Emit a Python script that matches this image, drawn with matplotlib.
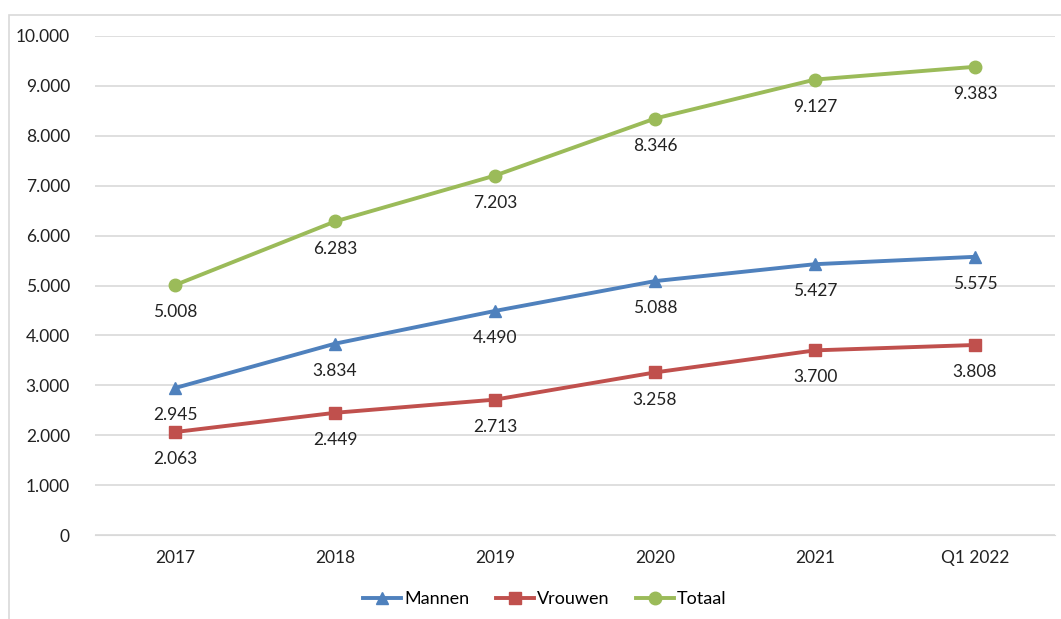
import matplotlib.pyplot as plt
from matplotlib.patches import Rectangle
from matplotlib.ticker import FuncFormatter

categories = ['2017', '2018', '2019', '2020', '2021', 'Q1 2022']
mannen = [2945, 3834, 4490, 5088, 5427, 5575]
vrouwen = [2063, 2449, 2713, 3258, 3700, 3808]
totaal = [5008, 6283, 7203, 8346, 9127, 9383]

plt.rcParams['font.family'] = ['Lato', 'DejaVu Sans']


def dutch(v, pos=None):
    return f'{int(round(v)):,}'.replace(',', '.')


fig = plt.figure(figsize=(10.61, 6.19), dpi=100)
ax = fig.add_axes([95 / 1061, 1 - 535 / 619, 960 / 1061, 499 / 619])

# outer chart frame
fig.patches.append(Rectangle((9 / 1061, -0.05), 1.1, 1 - 15 / 619 + 0.05,
                             transform=fig.transFigure, fill=False,
                             edgecolor='#D9D9D9', linewidth=1.2))

x = list(range(len(categories)))
series = [
    ('Mannen', mannen, '#4F81BD', '^'),
    ('Vrouwen', vrouwen, '#C0504D', 's'),
    ('Totaal', totaal, '#9BBB59', 'o'),
]
for name, vals, color, marker in series:
    ax.plot(x, vals, color=color, linewidth=2.8, marker=marker,
            markersize=9, label=name, zorder=3)
    for xi, v in zip(x, vals):
        ax.annotate(dutch(v), (xi, v), xytext=(0, -19.5),
                    textcoords='offset points', ha='center', va='center',
                    fontsize=12.5, color='#222222')

ax.set_xlim(-0.5, 5.5)
ax.set_ylim(0, 10000)
ax.set_yticks(range(0, 10001, 1000))
ax.yaxis.set_major_formatter(FuncFormatter(dutch))
ax.set_xticks(x)
ax.set_xticklabels(categories)
ax.grid(axis='y', color='#D9D9D9', linewidth=1.2)
ax.set_axisbelow(True)
for s in ax.spines.values():
    s.set_visible(False)
ax.spines['bottom'].set_visible(True)
ax.spines['bottom'].set_color('#D9D9D9')
ax.tick_params(axis='both', length=0, labelsize=12.5, labelcolor='#222222')
ax.tick_params(axis='y', pad=18)
ax.tick_params(axis='x', pad=11)

ax.legend(loc='center', bbox_to_anchor=(545 / 1061, 1 - 599 / 619),
          bbox_transform=fig.transFigure, ncol=3, frameon=False,
          fontsize=13, handlelength=2.1, columnspacing=1.5,
          handletextpad=0.15)

fig.savefig('out.png', dpi=100)
